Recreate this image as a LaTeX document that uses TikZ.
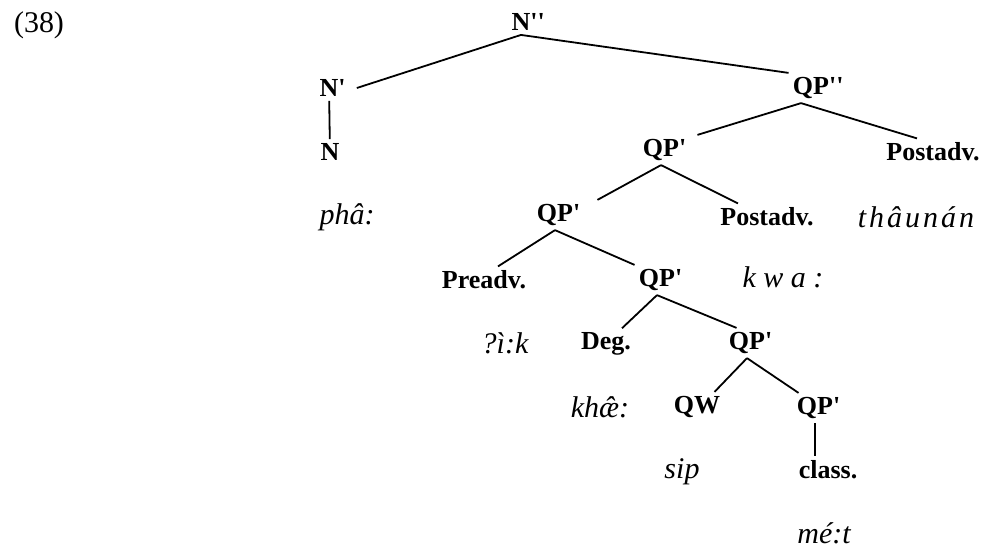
\documentclass[tikz,border=0pt]{standalone}
\usepackage{fontspec}
\setmainfont{Liberation Serif}
\usetikzlibrary{positioning}

\newcommand{\onebar}{\rlap{\textquotesingle}}
\newcommand{\twobar}{\rlap{\textquotesingle\textquotesingle}}

\begin{document}
\begin{tikzpicture}[x=0.5pt,y=-0.5pt]
\tikzset{
cat/.style={font=\bfseries\fontsize{13}{13}\selectfont, inner sep=2pt},
word/.style={font=\itshape\fontsize{15}{15}\selectfont, inner sep=2pt},
branch/.style={line width=0.9pt},
}
\useasboundingbox (0,0) rectangle (982,548);

\node [font=\fontsize{15}{15}\selectfont] (exno) at (39,25) {(38)};

% categories
\node [cat] (nbarbar) at (521,22) {N\twobar};
\node [cat] (nbar) at (329,88) {N\onebar};
\node [cat] (n) at (330,152) {N};
\node [cat] (qpbarbar) at (811,88) {QP\twobar};
\node [cat] (qpbarA) at (661,150) {QP\onebar};
\node [cat] (postA) at (933,152) {Postadv.};
\node [cat] (qpbarB) at (555,215) {QP\onebar};
\node [cat] (postB) at (767,217) {Postadv.};
\node [cat] (preadv) at (484,280) {Preadv.};
\node [cat] (qpbarC) at (657,280) {QP\onebar};
\node [cat] (deg) at (606,344) {Deg.};
\node [cat] (qpbarD) at (747,343) {QP\onebar};
\node [cat] (qw) at (697,407) {QW};
\node [cat] (qpbarE) at (815,408) {QP\onebar};
\node [cat] (class) at (828,470) {class.};

% words
\node [word] (pha) at (347,217) {phâ:};
\node [word] (thaunan) at (916,217) {t\kern1.5pt h\kern1.5pt â\kern1.5pt u\kern1.5pt n\kern1.5pt á\kern1.5pt n};
\node [word] (kwa) at (783,277) {k w a :};
\node [word] (ik) at (505,343) {?ì:k};
\node [word] (khae) at (600,407) {khæ̂:};
\node [word] (sip) at (682,472) {sip};
\node [word] (met) at (824,533) {mé:t};

% branches
\draw[branch] (nbarbar.south) -- ([xshift=7pt]nbar.east);
\draw[branch] (nbarbar.south) -- (qpbarbar.north west);
\draw[branch] (nbar) -- (n);
\draw[branch] ([xshift=-5pt]qpbarbar.south) -- ([xshift=7pt]qpbarA.north east);
\draw[branch] ([xshift=-5pt]qpbarbar.south) -- ([xshift=-8pt]postA.north);
\draw[branch] (qpbarA.south) -- ([xshift=10pt]qpbarB.north east);
\draw[branch] (qpbarA.south) -- ([xshift=11pt]postB.north west);
\draw[branch] (qpbarB.south) -- ([xshift=7pt]preadv.north);
\draw[branch] (qpbarB.south) -- (qpbarC.north west);
\draw[branch] (qpbarC.south) -- ([xshift=8pt]deg.north);
\draw[branch] (qpbarC.south) -- ([xshift=6pt]qpbarD.north west);
\draw[branch] (qpbarD.south) -- ([xshift=-5pt]qw.north east);
\draw[branch] (qpbarD.south) -- ([xshift=3pt]qpbarE.north west);
\draw[branch] (qpbarE.south) -- (qpbarE.south |- class.north);
\end{tikzpicture}
\end{document}
